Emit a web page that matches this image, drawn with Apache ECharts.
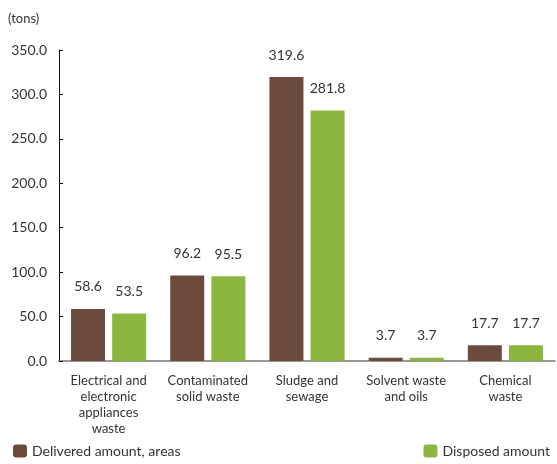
<!DOCTYPE html>
<html>
<head>
<meta charset="utf-8">
<script src="https://cdn.jsdelivr.net/npm/echarts@6/dist/echarts.min.js"></script>
<style>
  html, body { margin: 0; padding: 0; background: #fff; }
  #chart { width: 557px; height: 464px; }
</style>
</head>
<body>
<div id="chart"></div>
<script>
// Waste categories (x axis) and amounts in tons
const categories = [
  'Electrical and\nelectronic\nappliances\nwaste',
  'Contaminated\nsolid waste',
  'Sludge and\nsewage',
  'Solvent waste\nand oils',
  'Chemical\nwaste'
];
const deliveredValues = [58.6, 96.2, 319.6, 3.7, 17.7];
const disposedValues = [53.5, 95.5, 281.8, 3.7, 17.7];
const seriesNames = ['Delivered amount, areas', 'Disposed amount'];
const unitLabel = '(tons)';

const FONT = 'Lato, "Open Sans", sans-serif';
const TEXT = '#333';
const BROWN = '#6c4a3c';
const GREEN = '#8db63e';

const chart = echarts.init(document.getElementById('chart'), null, { renderer: 'canvas' });

const valueLabel = {
  show: true,
  position: 'top',
  distance: 15,
  color: TEXT,
  fontFamily: FONT,
  fontSize: 14,
  formatter: p => p.value.toFixed(1)
};

const legendText = { color: TEXT, fontSize: 14, fontFamily: FONT };

chart.setOption({
  animation: false,
  textStyle: { fontFamily: FONT },
  graphic: [{
    type: 'text',
    left: 8,
    top: 12,
    style: { text: unitLabel, fill: TEXT, font: '13px ' + FONT }
  }],
  legend: [
    {
      data: [seriesNames[0]],
      left: 8,
      top: 439,
      itemWidth: 14,
      itemHeight: 13,
      itemGap: 6,
      textStyle: legendText
    },
    {
      data: [seriesNames[1]],
      right: 2,
      top: 439,
      itemWidth: 14,
      itemHeight: 13,
      itemGap: 6,
      textStyle: legendText
    }
  ],
  grid: { left: 59, right: 2, top: 50, bottom: 103, containLabel: false },
  xAxis: {
    type: 'category',
    data: categories,
    axisLine: { lineStyle: { color: '#777', width: 1.5 } },
    axisTick: { show: false },
    axisLabel: {
      color: TEXT,
      fontSize: 13,
      fontFamily: FONT,
      lineHeight: 16,
      margin: 12,
      interval: 0
    }
  },
  yAxis: {
    type: 'value',
    min: 0,
    max: 350,
    interval: 50,
    splitLine: { show: false },
    axisLine: { show: true, lineStyle: { color: '#111', width: 1 } },
    axisTick: { show: true, inside: true, length: 4, lineStyle: { color: '#111' } },
    axisLabel: {
      color: TEXT,
      fontSize: 14,
      fontFamily: FONT,
      margin: 12,
      formatter: v => v.toFixed(1)
    }
  },
  series: [
    {
      name: seriesNames[0],
      type: 'bar',
      data: deliveredValues,
      itemStyle: { color: BROWN },
      barWidth: 34,
      barGap: '21%',
      label: valueLabel
    },
    {
      name: seriesNames[1],
      type: 'bar',
      data: disposedValues,
      itemStyle: { color: GREEN },
      barWidth: 34,
      label: valueLabel
    }
  ]
});
</script>
</body>
</html>
